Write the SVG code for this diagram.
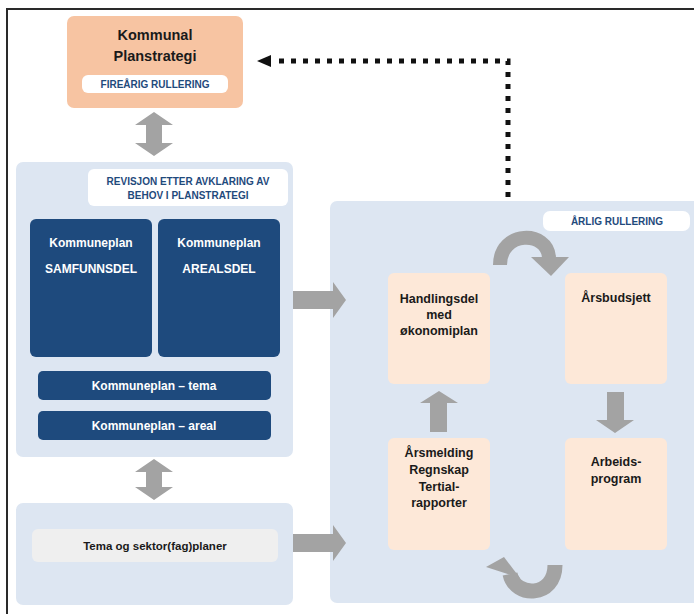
<svg xmlns="http://www.w3.org/2000/svg" width="694" height="614" viewBox="0 0 694 614">
<style>
text{font-family:"Liberation Sans",Arial,sans-serif;font-weight:bold;text-anchor:middle}
.panel{fill:#dde6f2}
.dark{fill:#1e4a7d}
.peach{fill:#fde8d8}
.pill{fill:#ffffff}
.pt{fill:#1f4a7c;font-size:10px}
.wt{fill:#ffffff;font-size:12px}
.bt{fill:#1a1a1a;font-size:12.5px}
.gray{fill:#a3a3a3}
.grayS{fill:none;stroke:#a3a3a3}
</style>
<rect x="0" y="0" width="694" height="614" fill="#ffffff"/>
<line x1="6" y1="9" x2="694" y2="9" stroke="#2a2a2a" stroke-width="2"/>
<line x1="7" y1="8" x2="7" y2="614" stroke="#2a2a2a" stroke-width="2"/>

<g id="planstrategi">
<rect x="67" y="16" width="176" height="92" rx="7" fill="#f7c4a2"/>
<text x="155" y="40" fill="#1a1a1a" font-size="14.5">Kommunal</text>
<text x="155" y="61" fill="#1a1a1a" font-size="14.5">Planstrategi</text>
<rect x="82" y="75" width="146" height="18" rx="6" class="pill"/>
<text x="155" y="88" class="pt">FIREÅRIG RULLERING</text>
</g>

<g id="kommuneplan-panel">
<rect x="16" y="162" width="277" height="295" rx="7" class="panel"/>
<rect x="88" y="169" width="200" height="37" rx="6" class="pill"/>
<text x="188" y="185" class="pt">REVISJON ETTER AVKLARING AV</text>
<text x="188" y="199" class="pt">BEHOV I PLANSTRATEGI</text>
</g>
<g id="samfunnsdel">
<rect x="30" y="219" width="122" height="138" rx="6" class="dark"/>
<text x="91" y="247" class="wt">Kommuneplan</text>
<text x="91" y="273" class="wt">SAMFUNNSDEL</text>
</g>
<g id="arealsdel">
<rect x="158" y="219" width="122" height="138" rx="6" class="dark"/>
<text x="219" y="247" class="wt">Kommuneplan</text>
<text x="219" y="273" class="wt">AREALSDEL</text>
</g>
<g id="tema">
<rect x="38" y="371" width="233" height="29" rx="5" class="dark"/>
<text x="154" y="390" class="wt">Kommuneplan – tema</text>
</g>
<g id="areal">
<rect x="38" y="411" width="233" height="29" rx="5" class="dark"/>
<text x="154" y="430" class="wt">Kommuneplan – areal</text>
</g>

<g id="sektorplaner-panel">
<rect x="16" y="503" width="277" height="102" rx="7" class="panel"/>
<rect x="32" y="529" width="246" height="33" rx="6" fill="#efefef"/>
<text x="155" y="550" fill="#1a1a1a" font-size="11.5">Tema og sektor(fag)planer</text>
</g>

<g id="arlig-panel">
<rect x="330" y="201" width="370" height="402" rx="7" class="panel"/>
<rect x="543" y="211" width="147" height="20" rx="7" class="pill"/>
<text x="617" y="225" class="pt">ÅRLIG RULLERING</text>
</g>
<g id="handlingsdel">
<rect x="388" y="273" width="102" height="111" rx="6" class="peach"/>
<text x="439" y="303" class="bt">Handlingsdel</text>
<text x="439" y="319" class="bt">med</text>
<text x="439" y="335" class="bt">økonomiplan</text>
</g>
<g id="arsbudsjett">
<rect x="565" y="273" width="102" height="111" rx="6" class="peach"/>
<text x="616" y="302" class="bt">Årsbudsjett</text>
</g>
<g id="arsmelding">
<rect x="388" y="438" width="102" height="112" rx="6" class="peach"/>
<text x="439" y="457" class="bt">Årsmelding</text>
<text x="439" y="474" class="bt">Regnskap</text>
<text x="439" y="491" class="bt">Tertial-</text>
<text x="439" y="507" class="bt">rapporter</text>
</g>
<g id="arbeidsprogram">
<rect x="565" y="438" width="102" height="112" rx="6" class="peach"/>
<text x="616" y="466" class="bt">Arbeids-</text>
<text x="616" y="483" class="bt">program</text>
</g>

<g id="connectors">
<!-- double vertical arrows -->
<polygon class="gray" points="154,112 173,125 162,125 162,143 173,143 154,156 135,143 146,143 146,125 135,125"/>
<polygon class="gray" points="154,459 173,472 162,472 162,487 173,487 154,500 135,487 146,487 146,472 135,472"/>
<!-- right arrows -->
<polygon class="gray" points="293,291 333,291 333,282 346,300 333,318 333,309 293,309"/>
<polygon class="gray" points="293,534 333,534 333,525 346,543 333,561 333,552 293,552"/>
<!-- up / down -->
<polygon class="gray" points="439,391 458,403 447,403 447,432 430,432 430,403 420,403"/>
<polygon class="gray" points="607,392 624,392 624,420 634,420 615,433 596,420 607,420"/>
<!-- curved arrows -->
<path class="grayS" stroke-width="14" d="M 500 265 C 500 230, 548 230, 549 258"/>
<polygon class="gray" points="531,257 569,257 551,276"/>
<path class="grayS" stroke-width="15" d="M 555 565 C 555 598, 515 598, 510 574"/>
<polygon class="gray" points="486,567 504,557 520,578"/>
<!-- dotted feedback -->
<path d="M 508 197 L 508 61 L 272 61" fill="none" stroke="#111" stroke-width="5" stroke-dasharray="5 7"/>
<polygon points="257,61 271,55 271,67" fill="#111"/>
</g>
</svg>
